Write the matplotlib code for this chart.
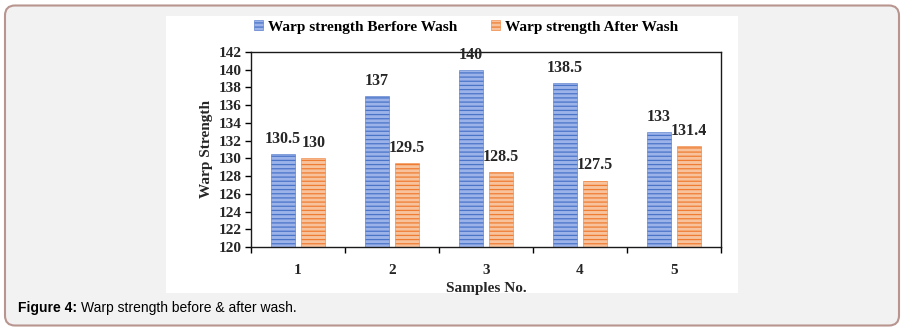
import numpy as np
import matplotlib.pyplot as plt
from matplotlib.patches import FancyBboxPatch, Rectangle

samples = [1, 2, 3, 4, 5]
before_wash = [130.5, 137, 140, 138.5, 133]
after_wash = [130, 129.5, 128.5, 127.5, 131.4]
before_labels = ["130.5", "137", "140", "138.5", "133"]
after_labels = ["130", "129.5", "128.5", "127.5", "131.4"]
y_ticks = list(range(120, 143, 2))

W, H = 911, 330
plt.rcParams['hatch.linewidth'] = 0.9
serif = ['Liberation Serif', 'DejaVu Serif']

fig = plt.figure(figsize=(W / 100, H / 100), dpi=100)
fig.patch.set_facecolor('white')

# outer panel with rounded border (inches)
panel = FancyBboxPatch((0.05, 0.045), 8.94, 3.2,
                       boxstyle="round,pad=0,rounding_size=0.1",
                       transform=fig.dpi_scale_trans, facecolor='#f2f2f2',
                       edgecolor='#b8958f', linewidth=1.5, zorder=-2)
fig.patches.append(panel)
# white chart area
fig.patches.append(Rectangle((166 / W, 1 - 293 / H), 572 / W, 277 / H,
                             transform=fig.transFigure, facecolor='white',
                             edgecolor='none', zorder=-1))

ax = fig.add_axes([251 / W, 1 - 247 / H, 470 / W, 195 / H])
ax.set_facecolor('white')

x = np.array(samples)
bw = 0.26
off = 0.162
b1 = ax.bar(x - off, np.array(before_wash) - 120, bw, bottom=120,
            color='#9cb3ea', edgecolor='#4a74c8', hatch='----', linewidth=0.4,
            label='Warp strength Berfore Wash')
b2 = ax.bar(x + off, np.array(after_wash) - 120, bw, bottom=120,
            color='#f8c29c', edgecolor='#ee7d33', hatch='----', linewidth=0.4,
            label='Warp strength After Wash')

for xi, v, t in zip(x - off, before_wash, before_labels):
    ax.text(xi, v + 0.8, t, ha='center', va='bottom', family=serif,
            fontweight='bold', fontsize=11.5, color='#262626')
for xi, v, t in zip(x + off, after_wash, after_labels):
    ax.text(xi, v + 0.8, t, ha='center', va='bottom', family=serif,
            fontweight='bold', fontsize=11.5, color='#262626')

ax.set_xlim(0.5, 5.5)
ax.set_ylim(120, 142)
ax.set_yticks(y_ticks)
ax.set_yticklabels([str(t) for t in y_ticks], family=serif, fontweight='bold',
                   fontsize=11, color='#262626')
ax.set_xticks(x)
ax.set_xticklabels([str(s) for s in samples], family=serif, fontweight='bold',
                   fontsize=11, color='#262626')
ax.set_xticks(np.arange(0.5, 6, 1), minor=True)
ax.tick_params(axis='x', which='major', length=0, pad=12)
ax.tick_params(axis='x', which='minor', length=4, width=1, direction='out')
ax.tick_params(axis='y', length=4, width=1, direction='out', pad=3)
for s in ax.spines.values():
    s.set_color('#1a1a1a')
    s.set_linewidth(1)

ax.set_ylabel('Warp Strength', family=serif, fontweight='bold', fontsize=11,
              color='#262626', labelpad=4)
ax.set_xlabel('Samples No.', family=serif, fontweight='bold', fontsize=11,
              color='#262626', labelpad=4)

fig.legend(handles=[b1, b2], loc='center', bbox_to_anchor=(466 / W, 1 - 27 / H),
           ncol=2, frameon=False, handlelength=0.6, handleheight=0.6,
           handletextpad=0.3, columnspacing=2.2,
           prop={'family': serif, 'weight': 'bold', 'size': 11})

cap_font = ['Liberation Sans', 'DejaVu Sans']
fig.text(18 / W, 1 - 308 / H, 'Figure 4:', fontweight='bold', fontsize=10,
         family=cap_font, va='center', ha='left')
fig.text(81 / W, 1 - 308 / H, 'Warp strength before & after wash.', fontsize=10,
         family=cap_font, va='center', ha='left')

fig.savefig('out.png', dpi=100, facecolor='white')
